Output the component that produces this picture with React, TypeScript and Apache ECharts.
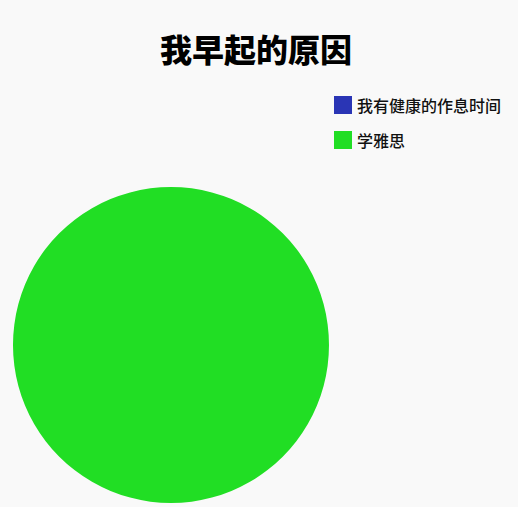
import React, { useEffect, useRef } from 'react';
import * as echarts from 'echarts';

const reasons = ['我有健康的作息时间', '学雅思'];
const shares = [0, 100];
const colors = ['#2a35b5', '#21de24'];

export default function App() {
  const chartRef = useRef<HTMLDivElement>(null);

  useEffect(() => {
    if (!chartRef.current) return;
    const chart = echarts.init(chartRef.current, null, { renderer: 'svg' });

    const option: echarts.EChartsOption = {
      animation: false,
      backgroundColor: '#f9f9f9',
      textStyle: { fontFamily: 'Noto Sans CJK SC' },
      title: {
        text: '我早起的原因',
        left: 155,
        top: 27,
        textStyle: {
          fontSize: 32,
          fontWeight: 900,
          color: '#000',
          fontFamily: 'Noto Sans CJK SC'
        }
      },
      legend: {
        orient: 'vertical',
        left: 329,
        top: 91,
        itemWidth: 18,
        itemHeight: 18,
        itemGap: 17,
        icon: 'rect',
        data: reasons,
        textStyle: {
          fontSize: 16,
          fontWeight: 500,
          color: '#111',
          fontFamily: 'Noto Sans CJK SC'
        }
      },
      series: [
        {
          type: 'pie',
          center: [171, 345],
          radius: 158,
          startAngle: 90,
          label: { show: false },
          labelLine: { show: false },
          emphasis: { disabled: true },
          data: reasons.map((name, i) => ({
            name,
            value: shares[i],
            itemStyle: { color: colors[i] }
          }))
        }
      ]
    };

    chart.setOption(option);
    return () => chart.dispose();
  }, []);

  return (
    <div
      ref={chartRef}
      style={{ position: 'fixed', left: 0, top: 0, width: 518, height: 507 }}
    />
  );
}
